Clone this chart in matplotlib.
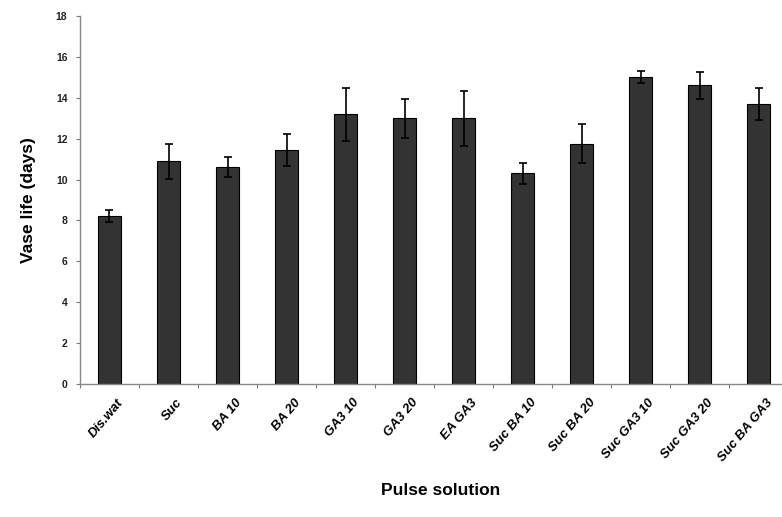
import matplotlib
matplotlib.use("Agg")
import matplotlib.pyplot as plt
import numpy as np

# vase life per pulse treatment
treatments = ["Dis.wat", "Suc", "BA 10", "BA 20", "GA3 10", "GA3 20", "EA GA3",
              "Suc BA 10", "Suc BA 20", "Suc GA3 10", "Suc GA3 20", "Suc BA GA3"]
vase_life = [8.2, 10.9, 10.6, 11.45, 13.2, 13.0, 13.0, 10.3, 11.75, 15.0, 14.6, 13.7]
errors = [0.3, 0.85, 0.5, 0.8, 1.3, 0.95, 1.35, 0.5, 0.95, 0.3, 0.65, 0.8]
yticks = [0, 2, 4, 6, 8, 10, 12, 14, 16, 18]

plt.rcParams['font.family'] = ['Liberation Sans', 'DejaVu Sans']

fig = plt.figure(figsize=(7.82, 5.17), dpi=100)
ax = fig.add_axes([0.1023, 0.2573, 0.9054, 0.7118])

x = np.arange(len(treatments))
ax.bar(x, vase_life, width=0.4, color="#333333", edgecolor="black", linewidth=0.8,
       yerr=errors, capsize=3, error_kw=dict(ecolor="black", elinewidth=1.2, capthick=1.2))

ax.set_xlim(-0.5, len(treatments) - 0.5)
ax.set_ylim(0, 18)
ax.set_yticks(yticks)
ax.set_yticklabels([str(t) for t in yticks], fontsize=7.5, fontweight="bold", color="#222222")

# category ticks sit between bars, labels at bar centres
ax.set_xticks(np.arange(len(treatments) + 1) - 0.5)
ax.set_xticklabels([])
ax.set_xticks(x + 0.12, minor=True)
ax.set_xticklabels(treatments, minor=True, rotation=50, ha="right", rotation_mode="anchor",
                   fontsize=9.5, fontweight="bold", fontstyle="italic")
ax.tick_params(axis="x", which="minor", length=0, pad=9)
ax.tick_params(axis="x", which="major", length=3, color="#777777")
ax.tick_params(axis="y", length=3, color="#777777", pad=6)

for side in ["top", "right"]:
    ax.spines[side].set_visible(False)
for side in ["left", "bottom"]:
    ax.spines[side].set_color("#888888")
    ax.spines[side].set_linewidth(1.0)

ax.set_ylabel("Vase life (days)", fontsize=12.5, fontweight="bold", labelpad=14)
ax.set_xlabel("Pulse solution", fontsize=12.5, fontweight="bold")
ax.xaxis.set_label_coords(0.51, -0.27)

fig.savefig("out.png", dpi=100)
